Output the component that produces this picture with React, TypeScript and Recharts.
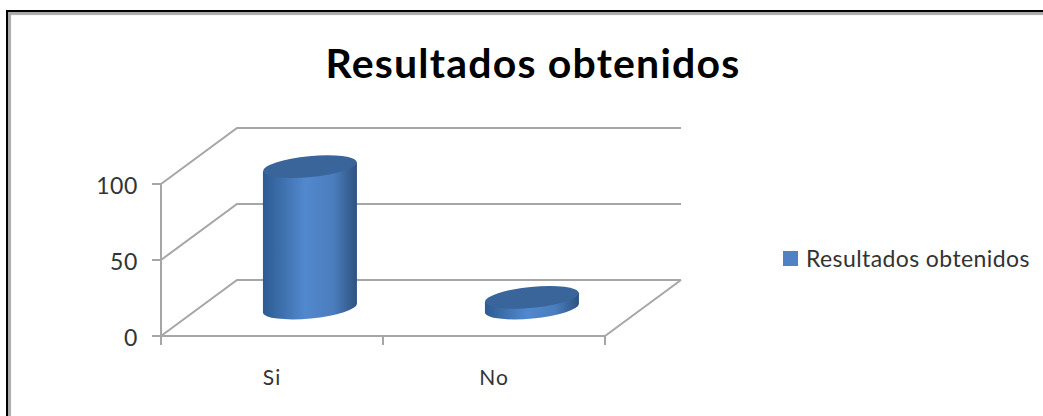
import { Bar, BarChart, CartesianGrid, Legend, XAxis, YAxis } from 'recharts';

const categories = ["Si", "No"];
const resultados = [93, 7];
const yTicks = [0, 50, 100];
const seriesName = "Resultados obtenidos";
const chartTitle = "Resultados obtenidos";

const data = categories.map((name, i) => ({ name, value: resultados[i] }));

// offset of the back wall from the front plane
const DEPTH_X = 76;
const DEPTH_Y = 56;
const AXIS_COLOR = "#a6a6a6";
const AXIS_WIDTH = 2;
const TEXT_COLOR = "#333333";
const FONT = "Lato, sans-serif";

// each gridline runs up the side wall, then along the back wall
const WallLine = (props: any) => {
    const { x1, x2, y1, index } = props;
    const backY = y1 - DEPTH_Y;
    const isFloor = index === 0;
    return (
        <g fill="none" stroke={AXIS_COLOR} strokeWidth={AXIS_WIDTH}>
            <path d={`M${x1} ${y1}L${x1 + DEPTH_X} ${backY}L${x2 + DEPTH_X} ${backY}`} />
            {isFloor && <path d={`M${x2 + DEPTH_X} ${backY}L${x2} ${y1}`} />}
        </g>
    );
};

// cylinder standing halfway into the floor
const Cylinder = (props: any) => {
    const { x, y, width, height } = props;
    const cx = x + width / 2;
    const rx = width / 2;
    const ry = 10.5;
    const tilt = -5.5;
    const lean = 4.5;
    const top = y - DEPTH_Y / 2;
    const bottom = y + height - DEPTH_Y / 2;
    const left = cx + DEPTH_X / 2 - rx;
    const right = cx + DEPTH_X / 2 + rx;
    const body =
        `M${left} ${top + lean}L${left} ${bottom + lean}` +
        `A${rx} ${ry} ${tilt} 0 0 ${right} ${bottom - lean}` +
        `L${right} ${top - lean}Z`;
    return (
        <g>
            <path d={body} fill="url(#cylinderSide)" />
            <ellipse
                cx={cx + DEPTH_X / 2}
                cy={top}
                rx={rx}
                ry={ry}
                fill="#39659b"
                transform={`rotate(${tilt} ${cx + DEPTH_X / 2} ${top})`}
            />
        </g>
    );
};

// category label with the tick marks on the band edges
const CategoryTick = (props: any) => {
    const { x, y, payload, index, visibleTicksCount } = props;
    const half = payload.offset;
    const axisY = y - 8;
    return (
        <g>
            <line x1={x - half} x2={x - half} y1={axisY} y2={axisY + 9} stroke={AXIS_COLOR} strokeWidth={AXIS_WIDTH} />
            {index === visibleTicksCount - 1 && (
                <line x1={x + half} x2={x + half} y1={axisY} y2={axisY + 9} stroke={AXIS_COLOR} strokeWidth={AXIS_WIDTH} />
            )}
            <text x={x} y={axisY + 49} textAnchor="middle" fontSize={21} letterSpacing={1} fill={TEXT_COLOR} fontFamily={FONT}>
                {payload.value}
            </text>
        </g>
    );
};

const LegendRow = ({ payload }: any) => (
    <div style={{ display: "flex", alignItems: "center", whiteSpace: "nowrap", fontFamily: FONT, fontSize: 23, letterSpacing: 0.4, color: TEXT_COLOR }}>
        {(payload || []).map((entry: any) => (
            <span key={entry.value} style={{ display: "flex", alignItems: "center" }}>
                <span style={{ width: 15, height: 15, marginRight: 8, background: entry.color }} />
                {entry.value}
            </span>
        ))}
    </div>
);

export default function App() {
    return (
        <div style={{ position: "absolute", left: 0, top: 0, width: 1043, height: 416, overflow: "hidden", background: "#ffffff" }}>
            <div
                style={{
                    position: "absolute",
                    left: 6,
                    top: 10,
                    width: 1100,
                    height: 500,
                    borderLeft: "2px solid #000000",
                    borderTop: "2px solid #000000",
                    boxShadow: "inset 3px 3px 1px #aaaaaa",
                }}
            />
            <BarChart
                width={1043}
                height={416}
                data={data}
                barCategoryGap="28.8%"
                margin={{ top: 184, right: 438, bottom: 50, left: 0 }}
                style={{ position: "absolute", left: 0, top: 0 }}
            >
                <defs>
                    <linearGradient id="cylinderSide" x1="0" y1="0" x2="1" y2="0">
                        <stop offset="0%" stopColor="#2d5a92" />
                        <stop offset="18%" stopColor="#3b6ea9" />
                        <stop offset="45%" stopColor="#5288ce" />
                        <stop offset="75%" stopColor="#4a7dbd" />
                        <stop offset="100%" stopColor="#2e5280" />
                    </linearGradient>
                </defs>
                <text x={533} y={78} textAnchor="middle" fontSize={41} fontWeight={700} letterSpacing={1.2} fill="#000000" fontFamily={FONT}>
                    {chartTitle}
                </text>
                <CartesianGrid vertical={false} horizontal={(p: any) => <WallLine key={p.key} {...p} />} />
                <XAxis
                    dataKey="name"
                    axisLine={{ stroke: AXIS_COLOR, strokeWidth: AXIS_WIDTH }}
                    tickLine={false}
                    tick={<CategoryTick />}
                    interval={0}
                />
                <YAxis
                    width={161}
                    domain={[0, 100]}
                    ticks={yTicks}
                    axisLine={{ stroke: AXIS_COLOR, strokeWidth: AXIS_WIDTH }}
                    tickLine={{ stroke: AXIS_COLOR, strokeWidth: AXIS_WIDTH }}
                    tickSize={9}
                    tickMargin={14}
                    tick={{ fontSize: 23, fill: TEXT_COLOR, fontFamily: FONT, dy: 2, letterSpacing: 0.6 }}
                />
                <Bar dataKey="value" name={seriesName} fill="#4f81c4" shape={<Cylinder />} isAnimationActive={false} />
                <Legend
                    verticalAlign="middle"
                    align="center"
                    content={<LegendRow />}
                    wrapperStyle={{ position: "absolute", left: 783, top: 244, width: 255 }}
                />
            </BarChart>
        </div>
    );
}
